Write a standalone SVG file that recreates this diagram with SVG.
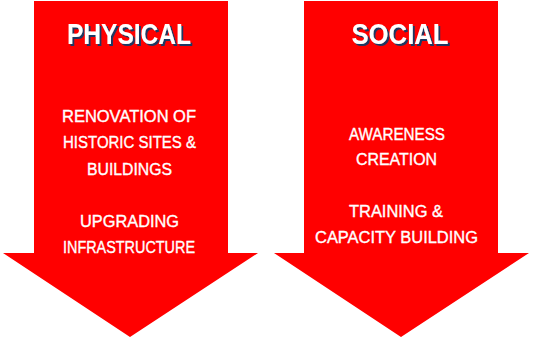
<svg xmlns="http://www.w3.org/2000/svg" width="533" height="340" viewBox="0 0 533 340">
<defs>
<filter id="sh" x="-10%" y="-20%" width="130%" height="150%">
<feDropShadow dx="2" dy="2" stdDeviation="0.3" flood-color="#1f3864" flood-opacity="1"/>
</filter>
</defs>
<style>
.arrow{fill:#ff0000}
.t{font-family:"Liberation Sans",Arial,sans-serif;font-size:16px;fill:#ffffff;stroke:#ffffff;stroke-width:0.35;text-anchor:middle}
.h{font-family:"Liberation Sans",Arial,sans-serif;font-size:29px;font-weight:bold;text-anchor:middle;fill:#ffffff;filter:url(#sh)}
</style>
<rect width="533" height="340" fill="#ffffff"/>
<g id="physical">
<polygon class="arrow" points="34,1 228,1 228,253 258,253 130,337 3,253 34,253"/>
<text class="h" x="129" y="44" textLength="124" lengthAdjust="spacingAndGlyphs">PHYSICAL</text>
<text class="t" x="129" y="122" textLength="134" lengthAdjust="spacingAndGlyphs">RENOVATION OF</text>
<text class="t" x="129.5" y="148" textLength="133" lengthAdjust="spacingAndGlyphs">HISTORIC SITES &amp;</text>
<text class="t" x="129.5" y="175" textLength="85" lengthAdjust="spacingAndGlyphs">BUILDINGS</text>
<text class="t" x="129.5" y="227" textLength="99" lengthAdjust="spacingAndGlyphs">UPGRADING</text>
<text class="t" x="129" y="253" textLength="132" lengthAdjust="spacingAndGlyphs">INFRASTRUCTURE</text>
</g>
<g id="social">
<polygon class="arrow" points="304,1 498,1 498,253 529,253 401,337 274,253 304,253"/>
<text class="h" x="400" y="44" textLength="97" lengthAdjust="spacingAndGlyphs">SOCIAL</text>
<text class="t" x="397" y="140" textLength="96" lengthAdjust="spacingAndGlyphs">AWARENESS</text>
<text class="t" x="396.5" y="165" textLength="81" lengthAdjust="spacingAndGlyphs">CREATION</text>
<text class="t" x="396" y="217" textLength="94" lengthAdjust="spacingAndGlyphs">TRAINING &amp;</text>
<text class="t" x="396.5" y="243" textLength="163" lengthAdjust="spacingAndGlyphs">CAPACITY BUILDING</text>
</g>
<g id="connectors"></g>
</svg>
